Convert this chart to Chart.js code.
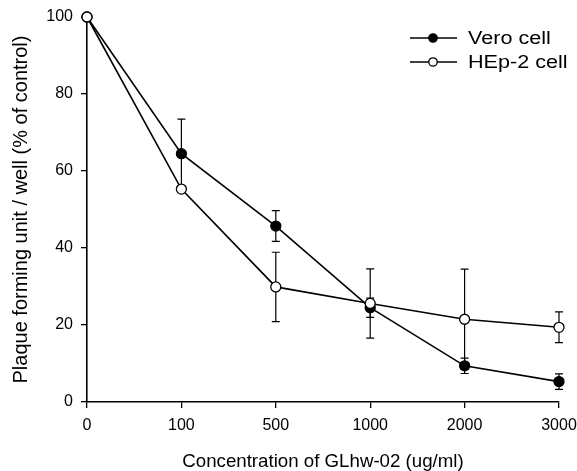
<!DOCTYPE html>
<html>
<head>
<meta charset="utf-8">
<script src="https://cdn.jsdelivr.net/npm/chart.js@4/dist/chart.umd.min.js"></script>
<style>
  html, body { margin: 0; padding: 0; background: #fff; }
  #wrap { width: 577px; height: 471px; position: relative; }
</style>
</head>
<body>
<div id="wrap"><canvas id="c" width="577" height="471"></canvas></div>
<script>
const concentrations = ['0', '100', '500', '1000', '2000', '3000'];
const veroValues = [100, 64.5, 45.7, 24.5, 9.4, 5.3];
const veroErrors = [0, 9, 4, 2.5, 2, 2];
const hepValues = [100, 55.3, 29.9, 25.6, 21.5, 19.4];
const hepErrors = [0, 0, 9, 9, 13, 4];
const yTicks = [0, 20, 40, 60, 80, 100];
const seriesNames = ['Vero cell', 'HEp-2 cell'];
const xTitle = 'Concentration of GLhw-02 (ug/ml)';
const yTitle = 'Plaque forming unit / well (% of control)';

const FONT = '"Liberation Sans", Arial, sans-serif';

const errorBarPlugin = {
  id: 'errorBars',
  beforeDatasetsDraw(chart) {
    const ctx = chart.ctx;
    const y = chart.scales.y;
    ctx.save();
    ctx.strokeStyle = '#000';
    ctx.lineWidth = 1.2;
    chart.data.datasets.forEach((ds, i) => {
      const meta = chart.getDatasetMeta(i);
      const errs = ds.errors || [];
      meta.data.forEach((pt, j) => {
        const e = errs[j];
        if (!e) return;
        const v = ds.data[j];
        const yt = y.getPixelForValue(v + e);
        const yb = y.getPixelForValue(v - e);
        const x = pt.x;
        ctx.beginPath();
        ctx.moveTo(x, yt); ctx.lineTo(x, yb);
        ctx.moveTo(x - 4, yt); ctx.lineTo(x + 4, yt);
        ctx.moveTo(x - 4, yb); ctx.lineTo(x + 4, yb);
        ctx.stroke();
      });
    });
    ctx.restore();
  }
};

const legendPlugin = {
  id: 'customLegend',
  afterDraw(chart) {
    const ctx = chart.ctx;
    ctx.save();
    const rows = [38, 62];
    chart.data.datasets.forEach((ds, i) => {
      const yy = rows[i];
      ctx.strokeStyle = '#000';
      ctx.lineWidth = 1.6;
      ctx.beginPath();
      ctx.moveTo(410, yy); ctx.lineTo(457, yy);
      ctx.stroke();
      ctx.beginPath();
      ctx.arc(433, yy, 4.2, 0, Math.PI * 2);
      ctx.fillStyle = ds.pointBackgroundColor;
      ctx.fill();
      ctx.lineWidth = 1.3;
      ctx.stroke();
      ctx.save();
      ctx.translate(468, yy + 1);
      ctx.scale(1.2, 1);
      ctx.fillStyle = '#000';
      ctx.font = '18px ' + FONT;
      ctx.textBaseline = 'middle';
      ctx.textAlign = 'left';
      ctx.fillText(ds.label, 0, 0);
      ctx.restore();
    });
    ctx.restore();
  }
};

new Chart(document.getElementById('c'), {
  type: 'line',
  data: {
    labels: concentrations,
    datasets: [
      {
        label: seriesNames[0],
        data: veroValues,
        errors: veroErrors,
        borderColor: '#000',
        borderWidth: 1.6,
        pointRadius: 5,
        pointBorderWidth: 1.3,
        pointBackgroundColor: '#000',
        pointBorderColor: '#000',
        tension: 0,
        order: 1
      },
      {
        label: seriesNames[1],
        data: hepValues,
        errors: hepErrors,
        borderColor: '#000',
        borderWidth: 1.6,
        pointRadius: 5,
        pointBorderWidth: 1.3,
        pointBackgroundColor: '#fff',
        pointBorderColor: '#000',
        tension: 0,
        order: 0
      }
    ]
  },
  options: {
    responsive: false,
    animation: false,
    devicePixelRatio: 1,
    clip: false,
    layout: { padding: { top: 17, right: 18, left: 0, bottom: 0 } },
    plugins: {
      legend: { display: false },
      tooltip: { enabled: false }
    },
    scales: {
      x: {
        type: 'category',
        offset: false,
        grid: { display: true, drawOnChartArea: false, drawTicks: true, tickLength: 6, color: '#000', lineWidth: 1.3 },
        border: { display: true, color: '#000', width: 1.6 },
        ticks: { color: '#000', font: { family: FONT, size: 16 }, padding: 8, maxRotation: 0, autoSkip: false },
        title: { display: true, text: xTitle, color: '#000', font: { family: FONT, size: 18.7 }, padding: { top: 0, bottom: -2 } },
        afterFit(scale) { scale.height = 69; scale.paddingRight = 0; scale.paddingLeft = 0; }
      },
      y: {
        min: 0,
        max: 100,
        afterBuildTicks(scale) { scale.ticks = yTicks.map(v => ({ value: v })); },
        grid: { display: true, drawOnChartArea: false, drawTicks: true, tickLength: 6, color: '#000', lineWidth: 1.3 },
        border: { display: true, color: '#000', width: 1.6 },
        ticks: { color: '#000', font: { family: FONT, size: 16 }, padding: 8 },
        title: { display: true, text: yTitle, color: '#000', font: { family: FONT, size: 20 }, padding: { top: 9, bottom: 0 } },
        afterFit(scale) { scale.width = 87; scale.paddingTop = 0; scale.paddingBottom = 0; }
      }
    }
  },
  plugins: [errorBarPlugin, legendPlugin]
});
</script>
</body>
</html>
